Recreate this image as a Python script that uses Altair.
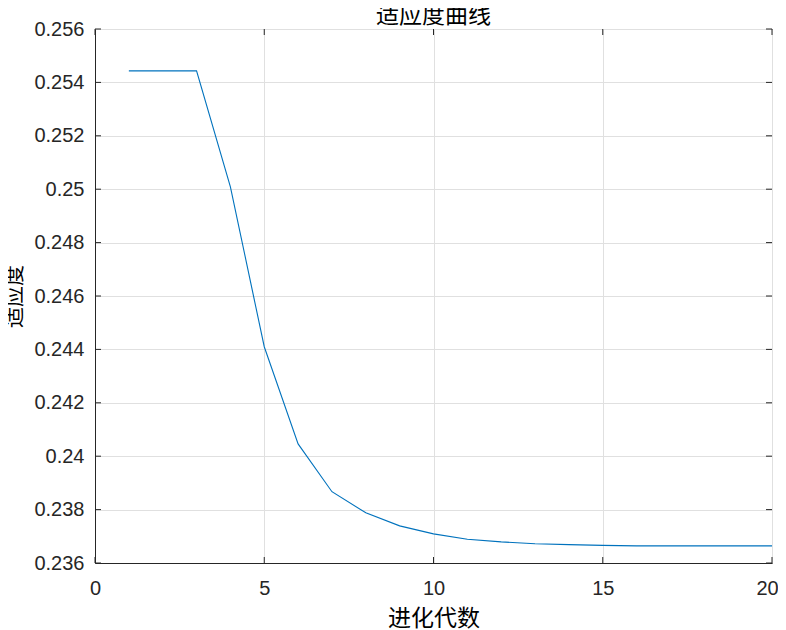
import altair as alt
import pandas as pd

# Data
generations = list(range(1, 21))
fitness = [0.25443, 0.25443, 0.25443, 0.25009, 0.24410, 0.24046, 0.23867,
           0.23788, 0.23739, 0.23709, 0.23689, 0.23679, 0.23672, 0.23669,
           0.23666, 0.23664, 0.23664, 0.23664, 0.23664, 0.23664]

x_ticks = [0, 5, 10, 15, 20]
y_ticks = [0.236, 0.238, 0.24, 0.242, 0.244, 0.246, 0.248, 0.25, 0.252, 0.254, 0.256]

title_text = "适应度曲线"
x_title = "进化代数"
y_title = "适应度"

W, H = 677, 534
TICK = 6
CJK = "Noto Sans CJK SC"
NUM = "Liberation Sans"
AX = "#262626"

df = pd.DataFrame({"gen": generations, "fit": fitness})
xt = pd.DataFrame({"v": x_ticks})
yt = pd.DataFrame({"v": y_ticks})

label_expr = "format(datum.value, '.3~f')"

xscale = alt.Scale(domain=[0, 20], nice=False, zero=False)
yscale = alt.Scale(domain=[0.236, 0.256], nice=False, zero=False)

line = alt.Chart(df).mark_line(color="#0072BD", strokeWidth=1.1).encode(
    x=alt.X("gen:Q", scale=xscale, title=x_title,
            axis=alt.Axis(values=x_ticks, tickSize=0, labelPadding=15,
                          labelFlush=False, labelOverlap=False,
                          labelOffset={"condition": {"test": "datum.value == 20", "value": -5},
                                       "value": 0},
                          labelFontSize=20, labelFont=NUM, labelColor=AX,
                          titleFont=CJK, titleFontSize=23, titleFontWeight="normal",
                          titleColor="#000000", titlePadding=9,
                          grid=True, gridColor="#e0e0e0", domainColor=AX)),
    y=alt.Y("fit:Q", scale=yscale, title=y_title,
            axis=alt.Axis(values=y_ticks, tickSize=0, labelPadding=11,
                          labelExpr=label_expr, labelOverlap=False,
                          labelFontSize=20, labelFont=NUM, labelColor=AX,
                          titleFont=CJK, titleFontSize=21, titleFontWeight="normal",
                          titleColor="#000000", titlePadding=9,
                          grid=True, gridColor="#e0e0e0", domainColor=AX)),
)

xb = alt.Chart(xt).mark_rule(color=AX, strokeWidth=1).encode(
    x=alt.X("v:Q", scale=xscale), y=alt.value(H), y2=alt.value(H - TICK))
xtp = alt.Chart(xt).mark_rule(color=AX, strokeWidth=1).encode(
    x=alt.X("v:Q", scale=xscale), y=alt.value(0), y2=alt.value(TICK))
yl = alt.Chart(yt).mark_rule(color=AX, strokeWidth=1).encode(
    y=alt.Y("v:Q", scale=yscale), x=alt.value(0), x2=alt.value(TICK))
yr = alt.Chart(yt).mark_rule(color=AX, strokeWidth=1).encode(
    y=alt.Y("v:Q", scale=yscale), x=alt.value(W), x2=alt.value(W - TICK))

chart = alt.layer(line, xb, xtp, yl, yr).properties(
    width=W, height=H,
    title=alt.TitleParams(title_text, font=CJK, fontSize=23, fontWeight="normal",
                          color="#000000", anchor="middle", offset=-9, frame="group"),
    autosize=alt.AutoSizeParams(type="none"),
    padding={"left": 87, "top": 21, "right": 6, "bottom": 66},
).configure_view(stroke=AX, strokeWidth=1)

chart.save("out.html", embed_options={"renderer": "svg", "actions": False})
